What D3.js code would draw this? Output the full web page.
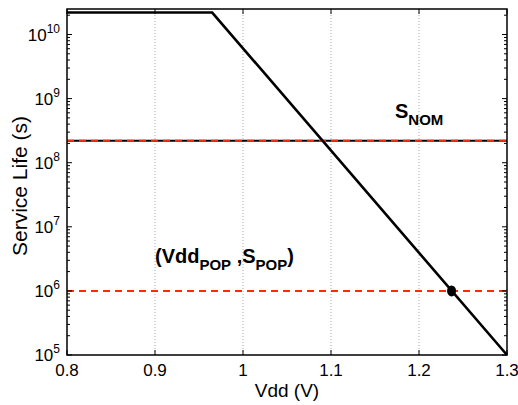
<!DOCTYPE html>
<html>
<head>
<meta charset="utf-8">
<script src="https://cdn.jsdelivr.net/npm/d3@7"></script>
<style>
  html, body { margin: 0; padding: 0; background: #fff; }
  svg { display: block; font-family: "Liberation Sans", Arial, Helvetica, sans-serif; }
</style>
</head>
<body>
<svg id="chart" width="518" height="405"></svg>
<script>
// ---- data ----
const vdd = [0.8, 0.965, 1.3];
const serviceLife = [2.2e10, 2.2e10, 1e5];
const sNom = 2.2e8;
const sPop = 1e6;
const vddPop = 1.237;
const xTicks = [0.8, 0.9, 1.0, 1.1, 1.2, 1.3];
const xTickLabels = ["0.8", "0.9", "1", "1.1", "1.2", "1.3"];
const yExponents = [5, 6, 7, 8, 9, 10];

const svg = d3.select("#chart");
const m = { left: 67, right: 507, top: 9, bottom: 355 };
const x = d3.scaleLinear().domain([0.8, 1.3]).range([m.left, m.right]);
const y = d3.scaleLog().domain([1e5, 2.5e10]).range([m.bottom, m.top]);

// vertical dotted grid
svg.append("g").selectAll("line").data(xTicks.slice(1, -1)).join("line")
  .attr("x1", d => x(d)).attr("x2", d => x(d))
  .attr("y1", m.top).attr("y2", m.bottom)
  .attr("stroke", "#aaa").attr("stroke-width", 1).attr("stroke-dasharray", "1,2");

// S_NOM line: black solid with red dashes
svg.append("line").attr("x1", x(0.8)).attr("x2", x(1.3))
  .attr("y1", y(sNom)).attr("y2", y(sNom))
  .attr("stroke", "#000").attr("stroke-width", 2);
svg.append("line").attr("x1", x(0.8)).attr("x2", x(1.3))
  .attr("y1", y(sNom)).attr("y2", y(sNom))
  .attr("stroke", "#ff2a00").attr("stroke-width", 2).attr("stroke-dasharray", "7,5");

// S_POP line: red dashed
svg.append("line").attr("x1", x(0.8)).attr("x2", x(1.3))
  .attr("y1", y(sPop)).attr("y2", y(sPop))
  .attr("stroke", "#ff2a00").attr("stroke-width", 2).attr("stroke-dasharray", "7,5");

// main curve
const line = d3.line().x((d, i) => x(vdd[i])).y(d => y(d));
svg.append("path").datum(serviceLife).attr("d", line)
  .attr("fill", "none").attr("stroke", "#000").attr("stroke-width", 2.6);

// marker
svg.append("ellipse").attr("cx", x(vddPop)).attr("cy", y(sPop))
  .attr("rx", 4.5).attr("ry", 5.5).attr("fill", "#000");

// box
svg.append("rect").attr("x", m.left).attr("y", m.top)
  .attr("width", m.right - m.left).attr("height", m.bottom - m.top)
  .attr("fill", "none").attr("stroke", "#000").attr("stroke-width", 1.5);

// x ticks (inside, top & bottom)
const gx = svg.append("g");
xTicks.forEach((t, i) => {
  gx.append("line").attr("x1", x(t)).attr("x2", x(t)).attr("y1", m.bottom).attr("y2", m.bottom - 5).attr("stroke", "#000");
  gx.append("line").attr("x1", x(t)).attr("x2", x(t)).attr("y1", m.top).attr("y2", m.top + 5).attr("stroke", "#000");
  gx.append("text").attr("x", x(t)).attr("y", 376).attr("text-anchor", "middle")
    .attr("font-size", 17).text(xTickLabels[i]);
});

// y ticks (major + minor)
const gy = svg.append("g");
for (let e = 5; e <= 10; e++) {
  for (let k = 1; k <= 9; k++) {
    const v = k * Math.pow(10, e);
    if (v > y.domain()[1]) break;
    const len = k === 1 ? 5 : 3;
    gy.append("line").attr("x1", m.left).attr("x2", m.left + len).attr("y1", y(v)).attr("y2", y(v)).attr("stroke", "#000");
    gy.append("line").attr("x1", m.right).attr("x2", m.right - len).attr("y1", y(v)).attr("y2", y(v)).attr("stroke", "#000");
  }
}
yExponents.forEach(e => {
  const t = gy.append("text").attr("x", 60).attr("y", y(Math.pow(10, e)) + 6)
    .attr("text-anchor", "end").attr("font-size", 17);
  t.append("tspan").text("10");
  t.append("tspan").attr("dy", -8).attr("font-size", 12).text(e);
});

// axis labels
svg.append("text").attr("x", x(1.05)).attr("y", 397).attr("text-anchor", "middle")
  .attr("font-size", 19).text("Vdd (V)");
svg.append("text").attr("transform", "translate(27," + 186 + ") rotate(-90)")
  .attr("text-anchor", "middle").attr("font-size", 21).text("Service Life (s)");

// annotations
const a1 = svg.append("text").attr("x", 395).attr("y", 118).attr("font-weight", "bold").attr("font-size", 20);
a1.append("tspan").text("S");
a1.append("tspan").attr("dy", 7).attr("font-size", 15).text("NOM");

const a2 = svg.append("text").attr("x", 155).attr("y", 263).attr("font-weight", "bold").attr("font-size", 20);
a2.append("tspan").text("(Vdd");
a2.append("tspan").attr("dy", 7).attr("font-size", 15).text("POP");
a2.append("tspan").attr("dy", -7).text(" ,S");
a2.append("tspan").attr("dy", 7).attr("font-size", 15).text("POP");
a2.append("tspan").attr("dy", -7).text(")");
</script>
</body>
</html>
